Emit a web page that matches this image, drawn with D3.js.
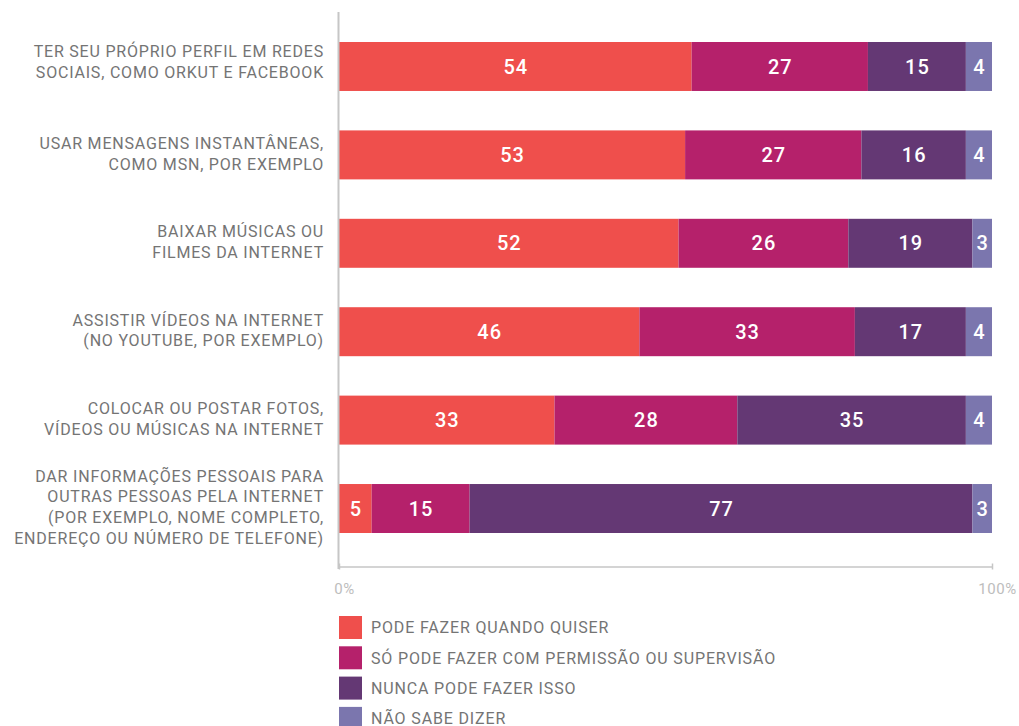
<!DOCTYPE html>
<html>
<head>
<meta charset="utf-8">
<script src="https://cdn.jsdelivr.net/npm/d3@7"></script>
<style>
  html, body { margin: 0; padding: 0; background: #fff; }
  svg { display: block; }
</style>
</head>
<body>
<svg id="chart" width="1019" height="726"></svg>
<script>
// Activities (one per row), label lines
const categories = [
  ["TER SEU PRÓPRIO PERFIL EM REDES", "SOCIAIS, COMO ORKUT E FACEBOOK"],
  ["USAR MENSAGENS INSTANTÂNEAS,", "COMO MSN, POR EXEMPLO"],
  ["BAIXAR MÚSICAS OU", "FILMES DA INTERNET"],
  ["ASSISTIR VÍDEOS NA INTERNET", "(NO YOUTUBE, POR EXEMPLO)"],
  ["COLOCAR OU POSTAR FOTOS,", "VÍDEOS OU MÚSICAS NA INTERNET"],
  ["DAR INFORMAÇÕES PESSOAIS PARA", "OUTRAS PESSOAS PELA INTERNET", "(POR EXEMPLO, NOME COMPLETO,", "ENDEREÇO OU NÚMERO DE TELEFONE)"]
];

// Response series (percent per row)
const seriesNames = [
  "PODE FAZER QUANDO QUISER",
  "SÓ PODE FAZER COM PERMISSÃO OU SUPERVISÃO",
  "NUNCA PODE FAZER ISSO",
  "NÃO SABE DIZER"
];
const podeQuandoQuiser = [54, 53, 52, 46, 33, 5];
const comPermissao     = [27, 27, 26, 33, 28, 15];
const nuncaPode        = [15, 16, 19, 17, 35, 77];
const naoSabe          = [4, 4, 3, 4, 4, 3];

const seriesColors = ["#ef4f4c", "#b5216b", "#643874", "#7b76ae"];
const tickValues = [0, 100];

const svg = d3.select("#chart");
const font = "Roboto, 'Liberation Sans', sans-serif";

const rows = categories.map((c, i) => ({
  key: i,
  label: c,
  v0: podeQuandoQuiser[i],
  v1: comPermissao[i],
  v2: nuncaPode[i],
  v3: naoSabe[i]
}));

const keys = ["v0", "v1", "v2", "v3"];
const stacked = d3.stack().keys(keys)(rows);

const x = d3.scaleLinear().domain([0, 100]).range([339, 992]);
const y = d3.scaleBand()
  .domain(rows.map(r => r.key))
  .range([42, 533])
  .paddingInner(0.446)
  .paddingOuter(0);
const color = d3.scaleOrdinal().domain(keys).range(seriesColors);

// stacked bar segments
const layer = svg.append("g").selectAll("g")
  .data(stacked)
  .join("g")
  .attr("fill", d => color(d.key));

layer.selectAll("rect")
  .data(d => d)
  .join("rect")
  .attr("x", d => x(d[0]))
  .attr("y", d => y(d.data.key))
  .attr("width", d => x(d[1]) - x(d[0]))
  .attr("height", y.bandwidth());

// value labels inside segments
layer.selectAll("text")
  .data(d => d.map(p => ({ p, key: d.key })))
  .join("text")
  .attr("x", d => (x(d.p[0]) + x(d.p[1])) / 2 + 0.5)
  .attr("y", d => y(d.p.data.key) + y.bandwidth() / 2)
  .attr("dy", "0.36em")
  .attr("text-anchor", "middle")
  .attr("fill", "#fff")
  .attr("font-family", font)
  .attr("font-size", 20)
  .attr("font-weight", 500)
  .attr("letter-spacing", 1)
  .text(d => d.p.data[d.key]);

// category labels
const lineH = 20.8;
svg.append("g").selectAll("text")
  .data(rows)
  .join("text")
  .attr("text-anchor", "end")
  .attr("fill", "#747474")
  .attr("font-family", font)
  .attr("font-size", 16)
  .attr("letter-spacing", 0.8)
  .each(function (d) {
    const n = d.label.length;
    const off = d.key === 0 ? -5 : -1.5;
    const cy = y(d.key) + y.bandwidth() / 2 + off;
    const t = d3.select(this);
    d.label.forEach((line, j) => {
      t.append("tspan")
        .attr("x", 324)
        .attr("y", cy + (j - (n - 1) / 2) * lineH)
        .attr("dy", "0.36em")
        .text(line);
    });
  });

// vertical baseline
svg.append("line")
  .attr("x1", 338.5).attr("x2", 338.5)
  .attr("y1", 12).attr("y2", 569)
  .attr("stroke", "#c6c6c6")
  .attr("stroke-width", 2);

// bottom percentage axis
const xAxis = d3.axisBottom(x)
  .tickValues(tickValues)
  .tickFormat(d => d + "%")
  .tickSizeOuter(0)
  .tickSizeInner(3);

const axisG = svg.append("g")
  .attr("transform", "translate(0,566.5)")
  .call(xAxis);
axisG.select(".domain")
  .attr("stroke", "#c6c6c6")
  .attr("stroke-width", 1.5);
axisG.selectAll(".tick line")
  .attr("y1", -3).attr("y2", 3)
  .attr("stroke", "#c6c6c6")
  .attr("stroke-width", 1.5);
axisG.selectAll(".tick text")
  .attr("y", 22)
  .attr("dx", 5)
  .attr("dy", "0.36em")
  .attr("fill", "#bdbdbd")
  .attr("font-family", font)
  .attr("font-size", 15)
  .attr("letter-spacing", 0.6);

// legend
const legend = svg.append("g").selectAll("g")
  .data(seriesNames)
  .join("g")
  .attr("transform", (d, i) => `translate(339,${616 + i * 30.3})`);
legend.append("rect")
  .attr("width", 23).attr("height", 23)
  .attr("fill", (d, i) => seriesColors[i]);
legend.append("text")
  .attr("x", 32)
  .attr("y", 11.5)
  .attr("dy", "0.36em")
  .attr("fill", "#747474")
  .attr("font-family", font)
  .attr("font-size", 16)
  .attr("letter-spacing", 0.85)
  .text(d => d);
</script>
</body>
</html>
